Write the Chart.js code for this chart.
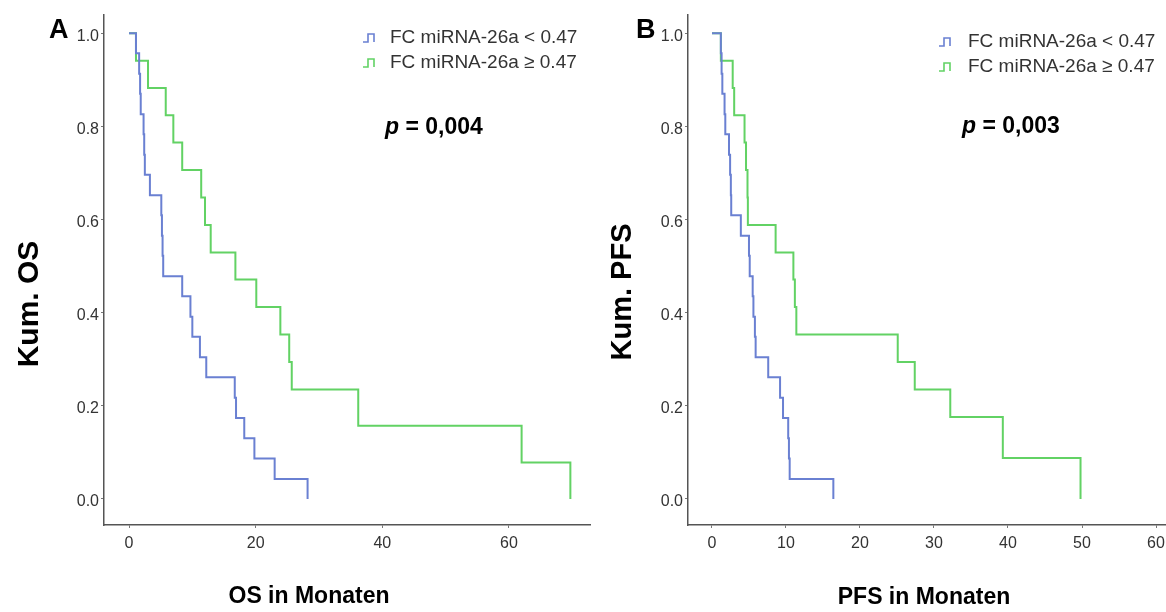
<!DOCTYPE html>
<html>
<head>
<meta charset="utf-8">
<script src="https://cdn.jsdelivr.net/npm/chart.js@4.4.0/dist/chart.umd.min.js"></script>
<style>
  html, body { margin: 0; padding: 0; background: #fff; overflow: hidden; }
  .panel { position: absolute; top: 0; }
</style>
</head>
<body>
<div class="panel" style="left:0px"><canvas id="os" width="600" height="612"></canvas></div>
<div class="panel" style="left:600px"><canvas id="pfs" width="600" height="612"></canvas></div>
<script>
// Kaplan-Meier steps (time in months, cumulative survival)
const legendLabels = ['FC miRNA-26a < 0.47', 'FC miRNA-26a \u2265 0.47'];

const osLowTime  = [0, 1.1, 1.6, 1.75, 1.85, 2.3, 2.4, 2.5, 3.3, 5.1, 5.2, 5.3, 5.4, 8.4, 9.7, 10.0, 11.2, 12.2, 16.7, 16.9, 18.2, 19.8, 23.0, 28.2];
const osLowSurv  = [1.0, 0.957, 0.913, 0.870, 0.826, 0.783, 0.739, 0.696, 0.652, 0.609, 0.565, 0.522, 0.478, 0.435, 0.391, 0.348, 0.304, 0.261, 0.217, 0.174, 0.130, 0.087, 0.043, 0];
const osHighTime = [0, 1.1, 3.0, 5.8, 7.0, 8.4, 11.4, 12.0, 12.9, 16.8, 20.1, 23.9, 25.3, 25.7, 36.2, 62.0, 69.7];
const osHighSurv = [1.0, 0.941, 0.882, 0.824, 0.765, 0.706, 0.647, 0.588, 0.529, 0.471, 0.412, 0.353, 0.294, 0.235, 0.157, 0.078, 0];

const pfsLowTime  = [0, 1.2, 1.3, 1.4, 1.7, 1.8, 2.3, 2.45, 2.55, 2.6, 3.9, 5.0, 5.1, 5.5, 5.6, 5.8, 5.9, 7.6, 9.2, 9.6, 10.3, 10.4, 10.5, 16.4];
const pfsLowSurv  = [1.0, 0.957, 0.913, 0.870, 0.826, 0.783, 0.739, 0.696, 0.652, 0.609, 0.565, 0.522, 0.478, 0.435, 0.391, 0.348, 0.304, 0.261, 0.217, 0.174, 0.130, 0.087, 0.043, 0];
const pfsHighTime = [0, 1.2, 2.8, 3.0, 4.4, 4.6, 4.8, 4.85, 8.6, 11.0, 11.2, 11.4, 25.1, 27.4, 32.2, 39.3, 49.8];
const pfsHighSurv = [1.0, 0.941, 0.882, 0.824, 0.765, 0.706, 0.647, 0.588, 0.529, 0.471, 0.412, 0.353, 0.294, 0.235, 0.176, 0.088, 0];

const yTicks = [0, 0.2, 0.4, 0.6, 0.8, 1.0];
const osTicks = [0, 20, 40, 60];
const pfsTicks = [0, 10, 20, 30, 40, 50, 60];

const blue = '#6a80d2';
const green = '#62d264';
const FONT = '"Liberation Sans", Arial, sans-serif';

function pts(t, s) {
  return t.map((x, i) => ({ x: x, y: s[i] }));
}

// draws panel letter, axis titles, legend and p value
const extras = {
  id: 'extras',
  afterDraw(chart, args, o) {
    const ctx = chart.ctx;
    ctx.save();
    ctx.fillStyle = '#000';
    ctx.textBaseline = 'alphabetic';
    ctx.textAlign = 'left';
    ctx.font = 'bold 27px ' + FONT;
    ctx.fillText(o.letter, o.letterX, o.letterY);

    ctx.textAlign = 'center';
    ctx.textBaseline = 'middle';
    ctx.font = 'bold 23px ' + FONT;
    ctx.fillText(o.xTitle, o.xTitleX, o.xTitleY);
    ctx.save();
    ctx.translate(o.yTitleX, o.yTitleY);
    ctx.rotate(-Math.PI / 2);
    ctx.font = 'bold ' + o.yTitleSize + 'px ' + FONT;
    ctx.fillText(o.yTitle, 0, 0);
    ctx.restore();

    // legend
    ctx.textAlign = 'left';
    ctx.font = '19px ' + FONT;
    chart.data.datasets.forEach((ds, i) => {
      const y = o.legendY + i * 25;
      const x = o.legendX;
      ctx.strokeStyle = ds.borderColor;
      ctx.lineWidth = 1.6;
      ctx.beginPath();
      ctx.moveTo(x, y + 4);
      ctx.lineTo(x + 5, y + 4);
      ctx.lineTo(x + 5, y - 4);
      ctx.lineTo(x + 11, y - 4);
      ctx.lineTo(x + 11, y + 4);
      ctx.stroke();
      ctx.fillStyle = '#333';
      ctx.fillText(ds.label, o.legendTextX, y);
    });

    // p value
    ctx.fillStyle = '#000';
    ctx.font = 'italic bold 23px ' + FONT;
    ctx.fillText('p', o.pX, o.pY);
    const w = ctx.measureText('p').width;
    ctx.font = 'bold 23px ' + FONT;
    ctx.fillText(' = ' + o.pText, o.pX + w, o.pY);
    ctx.restore();
  }
};

function makeChart(id, low, high, xr, xTicks, yAxisWidth, padRight, ex) {
  return new Chart(document.getElementById(id), {
    type: 'line',
    data: {
      datasets: [
        { label: legendLabels[0], data: low, borderColor: blue, borderWidth: 2, stepped: true, pointRadius: 0, fill: false },
        { label: legendLabels[1], data: high, borderColor: green, borderWidth: 2, stepped: true, pointRadius: 0, fill: false }
      ]
    },
    options: {
      responsive: false,
      devicePixelRatio: 1,
      animation: false,
      layout: { padding: { left: 0, right: padRight, top: 15, bottom: 0 } },
      plugins: { legend: { display: false }, tooltip: { enabled: false }, extras: ex },
      scales: {
        x: {
          type: 'linear',
          min: xr[0], max: xr[1],
          afterFit: s => { s.height = 87; },
          afterBuildTicks: s => { s.ticks = xTicks.map(v => ({ value: v })); },
          grid: { drawOnChartArea: false, drawTicks: true, tickLength: 3, color: '#777' },
          border: { display: true, color: '#555', width: 1.5 },
          ticks: { color: '#333', font: { family: FONT, size: 16 }, padding: 6, maxRotation: 0 }
        },
        y: {
          type: 'linear',
          min: -0.056, max: 1.039,
          afterFit: s => { s.width = yAxisWidth; },
          afterBuildTicks: s => { s.ticks = yTicks.map(v => ({ value: v })); },
          grid: { drawOnChartArea: false, drawTicks: true, tickLength: 3, color: '#777' },
          border: { display: true, color: '#555', width: 1.5 },
          ticks: { color: '#333', font: { family: FONT, size: 16 }, padding: 2, labelOffset: 3, callback: v => v.toFixed(1) }
        }
      }
    },
    plugins: [extras]
  });
}

makeChart('os', pts(osLowTime, osLowSurv), pts(osHighTime, osHighSurv), [-3.95, 72.8], osTicks, 104, 10, {
  letter: 'A', letterX: 49, letterY: 38,
  xTitle: 'OS in Monaten', xTitleX: 309, xTitleY: 597,
  yTitle: 'Kum. OS', yTitleSize: 30, yTitleX: 30, yTitleY: 304,
  legendX: 363, legendTextX: 390, legendY: 38,
  pX: 385, pY: 128, pText: '0,004'
});

makeChart('pfs', pts(pfsLowTime, pfsLowSurv), pts(pfsHighTime, pfsHighSurv), [-3.24, 61.35], pfsTicks, 88, 34, {
  letter: 'B', letterX: 36, letterY: 38,
  xTitle: 'PFS in Monaten', xTitleX: 324, xTitleY: 598,
  yTitle: 'Kum. PFS', yTitleSize: 29, yTitleX: 23, yTitleY: 292,
  legendX: 339, legendTextX: 368, legendY: 42,
  pX: 362, pY: 127, pText: '0,003'
});
</script>
</body>
</html>
